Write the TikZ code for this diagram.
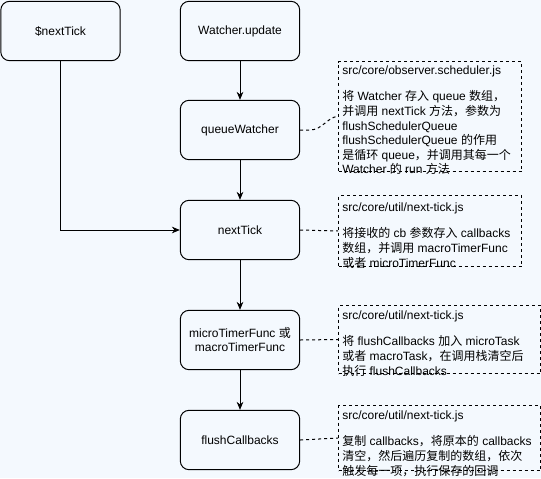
\documentclass[tikz,border=0pt]{standalone}
\usepackage{fontspec}
\setmainfont{Liberation Sans}
\newfontfamily\zhfont{Noto Sans CJK SC}
\newcommand\zh[1]{{\zhfont #1}}
\usetikzlibrary{arrows.meta}
\definecolor{bgblue}{RGB}{244,249,254}
\begin{document}
\begin{tikzpicture}[x=0.75pt,y=-0.75pt,
  stepbox/.style={draw, line width=0.75pt, rounded corners=6.5pt, minimum width=89.5pt, minimum height=44.5pt, align=center, font=\fontsize{9}{10.5}\selectfont, inner sep=0pt},
  notebox/.style={draw, dash pattern=on 2.25pt off 2.25pt, line width=0.75pt, anchor=north west, inner sep=0pt},
  notetext/.style={anchor=north west, align=left, inner sep=0pt, font=\fontsize{9}{10.9}\selectfont},
  flow/.style={draw, line width=0.75pt, -{Stealth[length=6pt,width=5pt]}},
  link/.style={draw, line width=0.75pt, dash pattern=on 2.25pt off 2.25pt}]
\fill[bgblue] (0,0) rectangle (541,478);
\useasboundingbox (0,0) rectangle (541,478);

% main steps
\node[stepbox] (dnt) at (60.5,31) {\$nextTick};
\node[stepbox] (wu) at (240,31) {Watcher.update};
\node[stepbox] (qw) at (240,130) {queueWatcher};
\node[stepbox] (nt) at (240,230) {nextTick};
\node[stepbox] (tf) at (240,340) {microTimerFunc \zh{或}\\macroTimerFunc};
\node[stepbox] (fc) at (240,440) {flushCallbacks};

% note boxes
\node[notebox, minimum width=137.25pt, minimum height=82.5pt] (n1) at (338,61) {};
\node[notebox, minimum width=137.25pt, minimum height=53.25pt] (n2) at (338,195) {};
\node[notebox, minimum width=151.5pt, minimum height=51pt] (n3) at (338,305) {};
\node[notebox, minimum width=151.5pt, minimum height=48.75pt] (n4) at (338,405) {};

\node[notetext] (t1) at (342,66) {src/core/observer.scheduler.js\\[8.6pt]
\zh{将} Watcher \zh{存入} queue \zh{数组，}\\
\zh{并调用} nextTick \zh{方法，参数为}\\
flushSchedulerQueue\\
flushSchedulerQueue \zh{的作用}\\
\zh{是循环} queue\zh{，并调用其每一个}\\
Watcher \zh{的} run \zh{方法}};

\node[notetext] (t2) at (342,203) {src/core/util/next-tick.js\\[8.6pt]
\zh{将接收的} cb \zh{参数存入} callbacks\\
\zh{数组，并调用} macroTimerFunc\\
\zh{或者} microTimerFunc};

\node[notetext] (t3) at (342,311) {src/core/util/next-tick.js\\[8.6pt]
\zh{将} flushCallbacks \zh{加入} microTask\\
\zh{或者} macroTask\zh{，在调用栈清空后}\\
\zh{执行} flushCallbacks};

\node[notetext] (t4) at (342,411) {src/core/util/next-tick.js\\[8.6pt]
\zh{复制} callbacks\zh{，将原本的} callbacks\\
\zh{清空，然后遍历复制的数组，依次}\\
\zh{触发每一项，执行保存的回调}};

% connectors
\path[flow] (wu) -- (qw);
\path[flow] (qw) -- (nt);
\path[flow] (dnt.south) |- (nt.west);
\path[flow] (nt) -- (tf);
\path[flow] (tf) -- (fc);

\path[link] (qw.east) -- ++(10,0) .. controls +(12,0) and +(-10,0) .. (n1.west);
\path[link] (nt.east) -- (n2.west);
\path[link] (tf.east) -- (n3.west);
\path[link] (fc.east) -- (n4.west);
\end{tikzpicture}
\end{document}
